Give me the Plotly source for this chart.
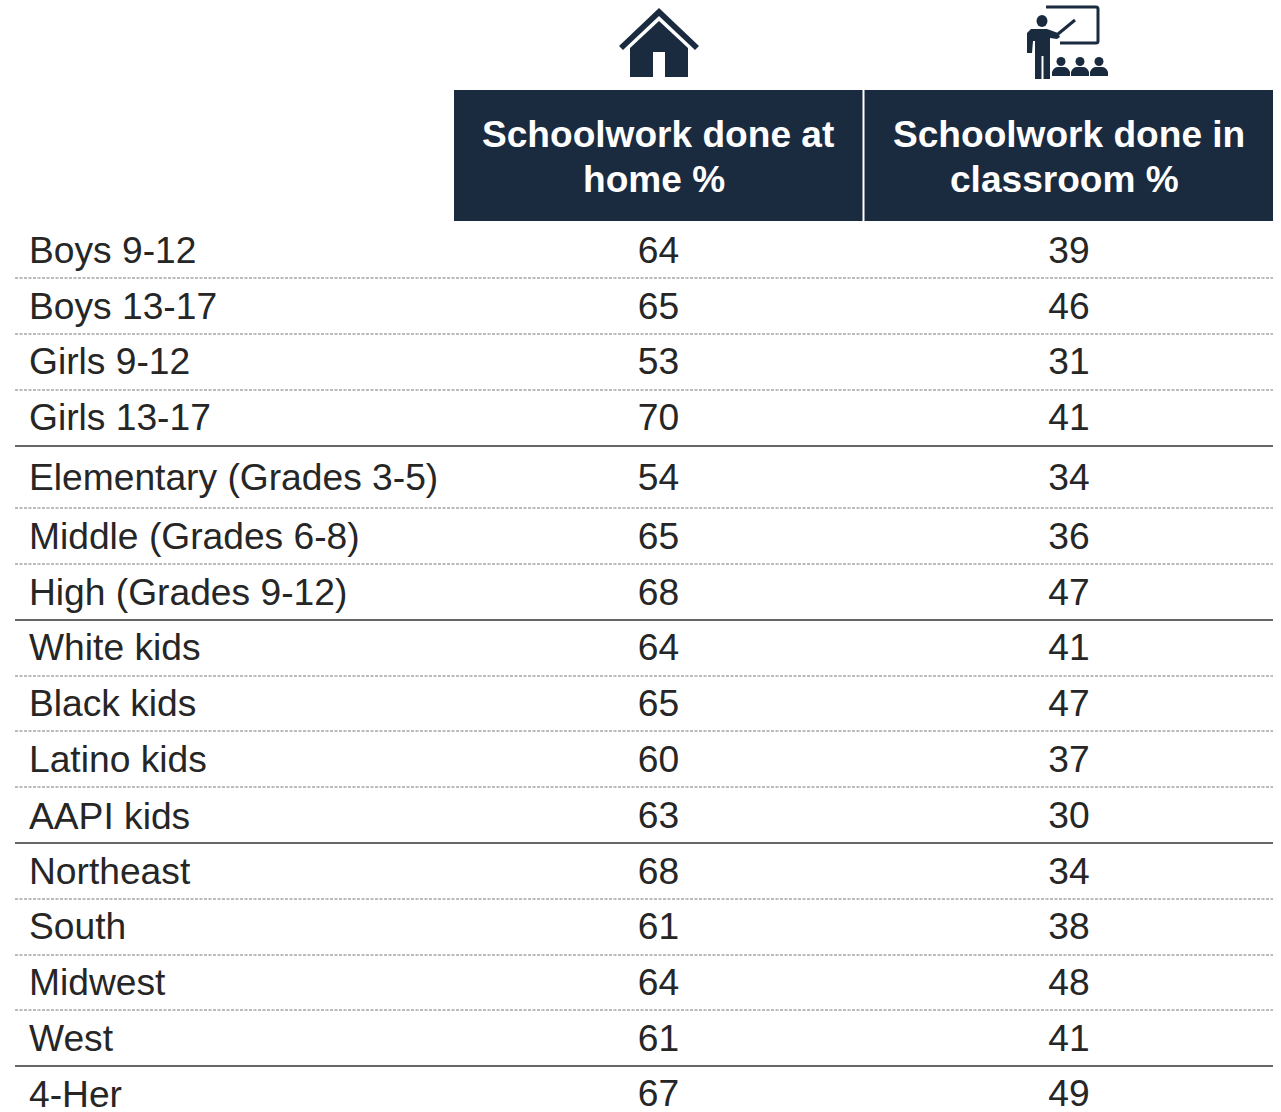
import plotly.graph_objects as go

categories = ["Boys 9-12", "Boys 13-17", "Girls 9-12", "Girls 13-17",
              "Elementary (Grades 3-5)", "Middle (Grades 6-8)", "High (Grades 9-12)",
              "White kids", "Black kids", "Latino kids", "AAPI kids",
              "Northeast", "South", "Midwest", "West", "4-Her"]
home_pct = [64, 65, 53, 70, 54, 65, 68, 64, 65, 60, 63, 68, 61, 64, 61, 67]
classroom_pct = [39, 46, 31, 41, 34, 36, 47, 41, 47, 37, 30, 34, 38, 48, 41, 49]
home_header = ["Schoolwork done at", "home %"]
classroom_header = ["Schoolwork done in", "classroom %"]

# layout (page pixels)
ROW_Y = [250, 306, 361, 417, 477, 536, 592, 647, 703, 759, 815.5, 871, 926, 982, 1038, 1093.5]
VALUE_DY = 3.5
RULE_Y = [278, 334, 390, 446, 508, 564, 620, 676, 731, 787, 843, 899, 955, 1010, 1066]
SOLID = {446, 620, 843, 1066}
NAVY = "#1A2B40"
TEXT = "#262626"
FONT = "Liberation Sans, Arial, sans-serif"
FS = 37.2

fig = go.Figure()
value_y = [y + VALUE_DY for y in ROW_Y]
fig.add_trace(go.Scatter(x=[658.5] * len(home_pct), y=value_y, mode="text",
                         text=[str(v) for v in home_pct], textposition="middle center",
                         textfont=dict(family=FONT, size=FS, color=TEXT), hoverinfo="skip"))
fig.add_trace(go.Scatter(x=[1069] * len(classroom_pct), y=value_y, mode="text",
                         text=[str(v) for v in classroom_pct], textposition="middle center",
                         textfont=dict(family=FONT, size=FS, color=TEXT), hoverinfo="skip"))

for name, y in zip(categories, ROW_Y):
    fig.add_annotation(x=27, y=y, text=name, xanchor="left", yanchor="middle", showarrow=False,
                       font=dict(family=FONT, size=FS, color=TEXT))

shapes = []
for y in RULE_Y:
    solid = y in SOLID
    shapes.append(dict(type="line", x0=15, x1=1273, y0=y, y1=y,
                       line=dict(color="#333333" if solid else "#A6A6A6", width=1.3,
                                 dash="solid" if solid else "3px,1.5px")))
for x0, x1 in [(454, 862.5), (864.5, 1273)]:
    shapes.append(dict(type="rect", x0=x0, x1=x1, y0=90, y1=221, fillcolor=NAVY, line_width=0))

for cx, lines in [((658, 653.5), home_header), ((1069, 1064), classroom_header)]:
    for x, y, t in zip(cx, (134, 179), lines):
        fig.add_annotation(x=x, y=y, text=f"<b>{t}</b>", xanchor="center", yanchor="middle",
                           showarrow=False, font=dict(family=FONT, size=37.1, color="white"))

# house icon
shapes.append(dict(type="path", line_width=0, fillcolor=NAVY,
                   path="M 659 8 L 699 46 L 695 50 L 659 16 L 623 50 L 619 46 Z"))
shapes.append(dict(type="path", line_width=0, fillcolor=NAVY,
                   path="M 659 21 L 688 48 L 688 77 L 665 77 L 665 52 L 653 52 L 653 77 L 630 77 L 630 48 Z"))

# teacher icon
shapes.append(dict(type="path", line=dict(color=NAVY, width=3), fillcolor="rgba(0,0,0,0)",
                   path="M 1046 7 L 1096 7 Q 1098 7 1098 9 L 1098 41 Q 1098 43 1096 43 L 1060 43"))
shapes.append(dict(type="line", x0=1058, y0=34, x1=1075, y1=20, line=dict(color=NAVY, width=3)))
shapes.append(dict(type="circle", x0=1036.5, x1=1047.5, y0=15, y1=27, fillcolor=NAVY, line_width=0))
shapes.append(dict(type="path", line_width=0, fillcolor=NAVY,
                   path="M 1031 29 L 1047 29 L 1058 33 L 1060 37 L 1057 39 L 1050 38 L 1050 79 L 1043.5 79 "
                        "L 1043.5 56 L 1041.5 56 L 1041.5 79 L 1035 79 L 1035 41 L 1033 41 L 1032 53 L 1027 53 L 1027 33 Z"))
for cx in (1061, 1080, 1099):
    shapes.append(dict(type="circle", x0=cx - 4.5, x1=cx + 4.5, y0=57, y1=66, fillcolor=NAVY, line_width=0))
    shapes.append(dict(type="path", line_width=0, fillcolor=NAVY,
                       path=f"M {cx-9} 76 L {cx-9} 72 Q {cx-7} 67 {cx-3} 67 L {cx+3} 67 Q {cx+7} 67 {cx+9} 72 L {cx+9} 76 Z"))

fig.update_layout(
    width=1281, height=1112, autosize=False, showlegend=False,
    margin=dict(l=0, r=0, t=0, b=0), paper_bgcolor="white", plot_bgcolor="white",
    xaxis=dict(range=[0, 1281], visible=False, fixedrange=True),
    yaxis=dict(range=[1112, 0], visible=False, fixedrange=True),
    shapes=shapes,
)
fig.write_html("out.html", config=dict(displayModeBar=False),
               post_script="document.body.style.margin='0';document.documentElement.style.overflow='hidden';")
